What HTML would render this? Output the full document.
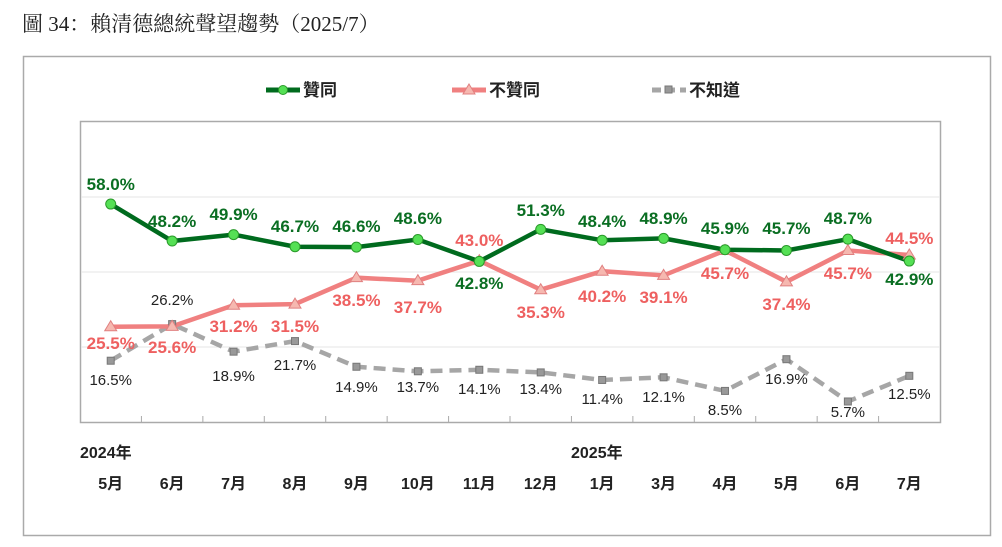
<!DOCTYPE html>
<html><head><meta charset="utf-8"><style>
html,body{margin:0;padding:0;background:#fff;width:1002px;height:547px;overflow:hidden}
svg text{font-family:"Liberation Sans","Noto Sans CJK TC",sans-serif}
</style></head><body>
<svg id="s" width="1002" height="547" xmlns="http://www.w3.org/2000/svg">
<text x="22" y="31" font-size="21" style="font-family:'Liberation Serif','Noto Serif CJK SC',serif" fill="#222">圖 34：賴清德總統聲望趨勢（2025/7）</text>
<rect x="23.5" y="56.5" width="967" height="479" fill="#fff" stroke="#aaa" stroke-width="1.5"/>
<rect x="80.5" y="121.5" width="860" height="301" fill="#fff" stroke="#aaa" stroke-width="1.5"/>
<line x1="81" y1="197" x2="940" y2="197" stroke="#e6e6e6"/>
<line x1="81" y1="272" x2="940" y2="272" stroke="#e6e6e6"/>
<line x1="81" y1="347" x2="940" y2="347" stroke="#e6e6e6"/>
<g id="g"></g>
<line x1="266" y1="90" x2="300" y2="90" stroke="#006b1e" stroke-width="5"/><circle cx="283" cy="90" r="4.5" fill="#55e055" stroke="#2a9a2a"/>
<text x="303" y="96" font-size="17" font-weight="bold" fill="#222">贊同</text>
<line x1="452" y1="90" x2="486" y2="90" stroke="#f08080" stroke-width="5"/><polygon points="469,84 475,94 463,94" fill="#f6b8b0" stroke="#e08080"/>
<text x="489" y="96" font-size="17" font-weight="bold" fill="#222">不贊同</text>
<line x1="652" y1="90" x2="686" y2="90" stroke="#a6a6a6" stroke-width="5" stroke-dasharray="9,5"/><rect x="665" y="86" width="7" height="7" fill="#999" stroke="#777"/>
<text x="689" y="96" font-size="17" font-weight="bold" fill="#222">不知道</text>
<text x="80" y="458" font-size="16" font-weight="bold" fill="#222">2024年</text>
<text x="571" y="458" font-size="16" font-weight="bold" fill="#222">2025年</text>
</svg>
<script>
var G=[58.0,48.2,49.9,46.7,46.6,48.6,42.8,51.3,48.4,48.9,45.9,45.7,48.7,42.9];
var P=[25.5,25.6,31.2,31.5,38.5,37.7,43.0,35.3,40.2,39.1,45.7,37.4,45.7,44.5];
var K=[16.5,26.2,18.9,21.7,14.9,13.7,14.1,13.4,11.4,12.1,8.5,16.9,5.7,12.5];
var GL=[190,227,220,232,232,224,289,216,227,224,234,234,224,285];
var PL=[349,353,332,332,306,313,246,318,302,303,279,310,279,244];
var KL=[385,305,381,370,392,392,394,394,404,402,415,384,417,399];
var M=["5月","6月","7月","8月","9月","10月","11月","12月","1月","3月","4月","5月","6月","7月"];
var X=function(i){return 80+61.43*(i+0.5)},Y=function(v){return 423-v*3.775};
var h="";
for(var i=1;i<14;i++){var x=80+61.43*i;h+='<line x1="'+x+'" y1="416" x2="'+x+'" y2="423" stroke="#aaa"/>';}
function pts(a){return a.map(function(v,i){return X(i).toFixed(1)+','+Y(v).toFixed(1)}).join(' ')}
h+='<polyline points="'+pts(K)+'" fill="none" stroke="#a6a6a6" stroke-width="4.5" stroke-dasharray="12,7"/>';
h+='<polyline points="'+pts(P)+'" fill="none" stroke="#f08080" stroke-width="4.5"/>';
h+='<polyline points="'+pts(G)+'" fill="none" stroke="#006b1e" stroke-width="4.5"/>';
for(var i=0;i<14;i++){var x=X(i);
 var y=Y(K[i]);h+='<rect x="'+(x-3.5)+'" y="'+(y-3.5)+'" width="7" height="7" fill="#999" stroke="#777"/>';
 y=Y(P[i]);h+='<polygon points="'+x+','+(y-6)+' '+(x+6)+','+(y+4)+' '+(x-6)+','+(y+4)+'" fill="#f6b8b0" stroke="#e08080"/>';
 y=Y(G[i]);h+='<circle cx="'+x+'" cy="'+y+'" r="5" fill="#55e055" stroke="#2a9a2a"/>';
 h+='<text x="'+x+'" y="'+GL[i]+'" font-size="17" font-weight="bold" fill="#0a6e22" text-anchor="middle">'+G[i].toFixed(1)+'%</text>';
 h+='<text x="'+x+'" y="'+PL[i]+'" font-size="17" font-weight="bold" fill="#ee6060" text-anchor="middle">'+P[i].toFixed(1)+'%</text>';
 h+='<text x="'+x+'" y="'+KL[i]+'" font-size="15" fill="#222" text-anchor="middle">'+K[i].toFixed(1)+'%</text>';
 h+='<text x="'+x+'" y="489" font-size="16" font-weight="bold" fill="#222" text-anchor="middle">'+M[i]+'</text>';
}
document.getElementById("g").innerHTML=h;
</script>
</body></html>
